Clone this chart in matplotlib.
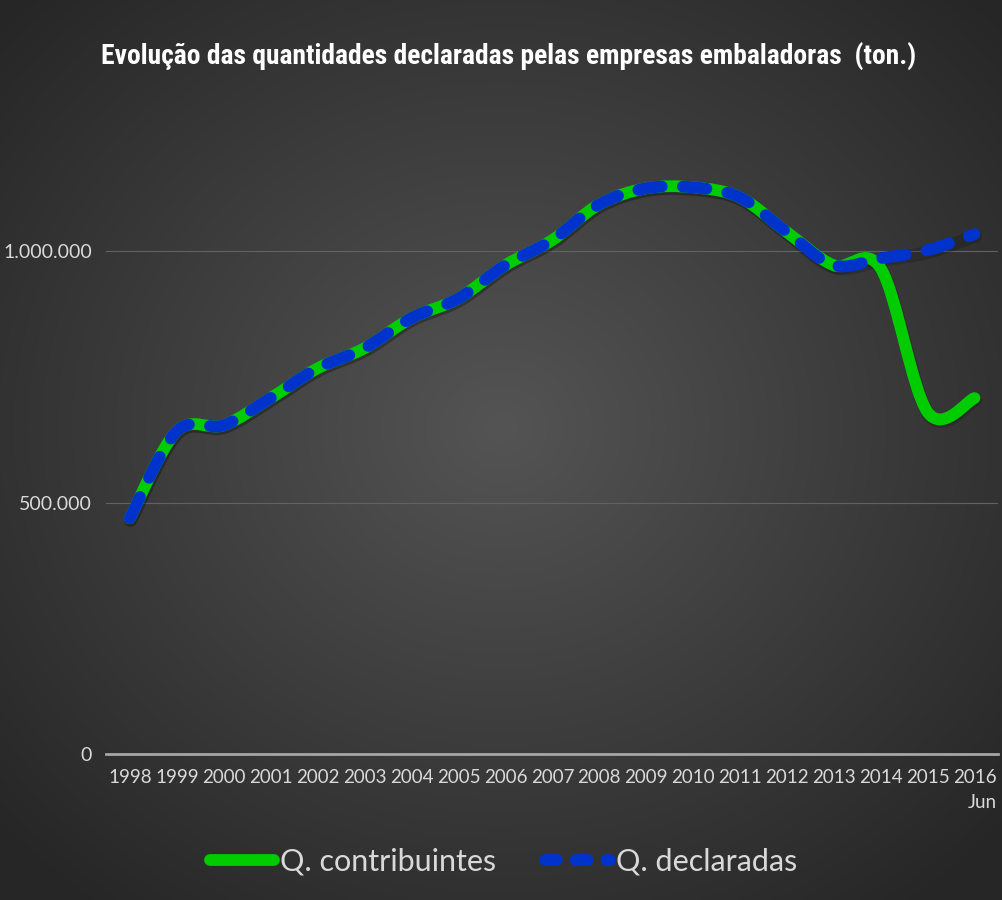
import numpy as np
import matplotlib
matplotlib.use('Agg')
import matplotlib.pyplot as plt
from matplotlib.path import Path
from matplotlib.patches import PathPatch
from matplotlib.lines import Line2D
import matplotlib.transforms as mtransforms

years = ['1998', '1999', '2000', '2001', '2002', '2003', '2004', '2005', '2006', '2007',
         '2008', '2009', '2010', '2011', '2012', '2013', '2014', '2015', '2016\nJun']
q_contribuintes = [469000, 642000, 654000, 708000, 767000, 807000, 867000, 906000, 972000, 1022000,
                   1093000, 1125000, 1127000, 1107000, 1038000, 972000, 966000, 680000, 708000]
q_declaradas = [469000, 642000, 654000, 708000, 767000, 807000, 867000, 906000, 972000, 1022000,
                1093000, 1125000, 1127000, 1107000, 1038000, 972000, 986000, 1002000, 1034000]


def smooth_path(x, y):
    # Catmull-Rom style bezier, like Excel's "smoothed line"
    x = np.asarray(x, float)
    y = np.asarray(y, float)
    verts = [(x[0], y[0])]
    codes = [Path.MOVETO]
    n = len(x)
    for i in range(n - 1):
        p0 = i - 1 if i > 0 else i
        p3 = i + 2 if i + 2 < n else i + 1
        c1 = (x[i] + (x[i + 1] - x[p0]) / 6, y[i] + (y[i + 1] - y[p0]) / 6)
        c2 = (x[i + 1] - (x[p3] - x[i]) / 6, y[i + 1] - (y[p3] - y[i]) / 6)
        verts += [c1, c2, (x[i + 1], y[i + 1])]
        codes += [Path.CURVE4] * 3
    return Path(verts, codes)


fig = plt.figure(figsize=(10.03, 9), dpi=100)

# radial gradient background
bg = fig.add_axes([0, 0, 1, 1], zorder=-10)
gx, gy = np.meshgrid(np.linspace(-1, 1, 400), np.linspace(-1, 1, 400))
r = np.clip(np.sqrt(gx ** 2 + (gy + 0.05) ** 2) / 1.35, 0, 1)
shade = 0.33 - 0.18 * r
bg.imshow(np.dstack([shade, shade, shade]), extent=[0, 1, 0, 1], aspect='auto', interpolation='bilinear')
bg.set_axis_off()

ax = fig.add_axes([0.106, 0.162, 0.889, 0.7])
ax.patch.set_visible(False)
xs = np.arange(len(years))
ax.set_xlim(-0.5, len(years) - 0.5)
ax.set_ylim(0, 1252500)

ax.set_yticks([0, 500000, 1000000])
ax.set_yticklabels(['0', '500.000', '1.000.000'])
ax.set_xticks(xs)
ax.set_xticklabels(years)
for lab in ax.get_yticklabels():
    lab.set_fontfamily('Lato')
    lab.set_fontsize(14)
    lab.set_color('#d9d9d9')
for lab in ax.get_xticklabels():
    lab.set_fontfamily('Lato')
    lab.set_fontsize(13.5)
    lab.set_color('#d9d9d9')
    lab.set_horizontalalignment('right')
    lab.set_multialignment('right')
    lab.set_linespacing(1.55)
ax.tick_params(axis='x', length=0, pad=11)
ax.tick_params(axis='y', length=0, pad=10.5)
for s in ['top', 'right', 'left']:
    ax.spines[s].set_visible(False)
ax.spines['bottom'].set_color('#a6a6a6')
ax.spines['bottom'].set_linewidth(2)
ax.grid(axis='y', color='#626262', linewidth=0.8)
ax.set_axisbelow(True)

# shift x labels so they sit centred on the category
offset = mtransforms.ScaledTranslation(22 / 100, 0, fig.dpi_scale_trans)
for lab in ax.get_xticklabels():
    lab.set_transform(lab.get_transform() + offset)

green = '#00cc00'
blue = '#0033cc'
lw = 8.5
dash = (0, (2.0, 1.8))

shadow_off = mtransforms.ScaledTranslation(1 / 100, -2 / 100, fig.dpi_scale_trans)
for vals in (q_contribuintes, q_declaradas):
    sh = PathPatch(smooth_path(xs, vals), fill=False, edgecolor='black', alpha=0.16,
                   linewidth=lw + 1, capstyle='round', joinstyle='round',
                   transform=ax.transData + shadow_off, zorder=2)
    ax.add_patch(sh)

ax.add_patch(PathPatch(smooth_path(xs, q_contribuintes), fill=False, edgecolor=green,
                       linewidth=lw, capstyle='round', joinstyle='round', zorder=3))
ax.add_patch(PathPatch(smooth_path(xs, q_declaradas), fill=False, edgecolor=blue,
                       linewidth=lw, linestyle=dash, capstyle='round',
                       joinstyle='round', zorder=4))

fig.text(0.507, 0.938, 'Evolução das quantidades declaradas pelas empresas embaladoras  (ton.)',
         ha='center', va='center', color='white', fontsize=19.8, fontweight='bold',
         fontstretch='condensed',
         family=['Roboto Condensed', 'Liberation Sans Narrow', 'DejaVu Sans'])

handles = [Line2D([], [], color=green, linewidth=lw, solid_capstyle='round'),
           Line2D([], [], color=blue, linewidth=lw, linestyle=(0, (1.0, 1.6)), dash_capstyle='round')]
leg = fig.legend(handles, ['Q. contribuintes', 'Q. declaradas'], loc='center',
                 bbox_to_anchor=(0.502, 0.043), ncol=2, frameon=False, handlelength=2.1,
                 handletextpad=0.2, columnspacing=1.6,
                 prop={'family': 'Lato', 'size': 22})
for t in leg.get_texts():
    t.set_color('#d9d9d9')

fig.savefig('out.png', dpi=100)
